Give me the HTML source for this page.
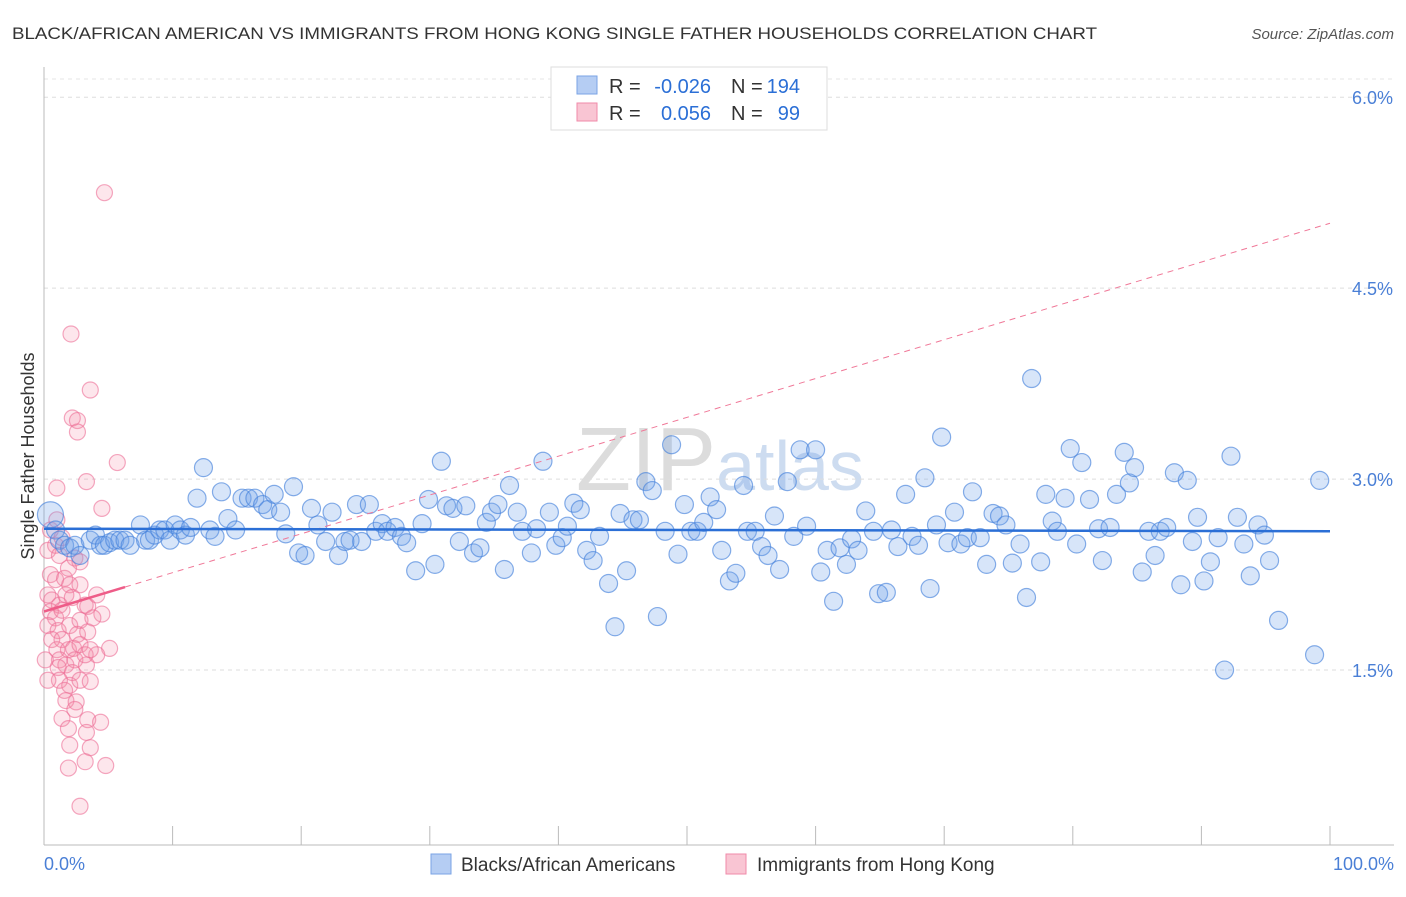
<!DOCTYPE html>
<html><head><meta charset="utf-8"><style>
body{margin:0;background:#fff;font-family:"Liberation Sans",sans-serif}
svg text{font-family:"Liberation Sans",sans-serif}
</style></head><body>
<svg id="chart" width="1406" height="892" viewBox="0 0 1406 892">
<text x="12" y="39" font-size="17" fill="#333" textLength="1085" lengthAdjust="spacingAndGlyphs">BLACK/AFRICAN AMERICAN VS IMMIGRANTS FROM HONG KONG SINGLE FATHER HOUSEHOLDS CORRELATION CHART</text>
<text x="1394" y="39" font-size="15" fill="#555" font-style="italic" text-anchor="end">Source: ZipAtlas.com</text>
<text x="720" y="490" font-size="90" fill="#ddd" text-anchor="middle" font-family="Liberation Serif"><tspan fill="#dcdcdc">ZIP</tspan><tspan fill="#cddcf0" font-family="Liberation Sans" font-size="70">atlas</tspan></text>
<g id="grid"></g>
<g id="axes"></g>
<g id="pink"></g>
<g id="blue"></g>
<g id="trends"></g>
<text x="34" y="456" font-size="18" fill="#333" text-anchor="middle" transform="rotate(-90 34 456)">Single Father Households</text>
<text x="44" y="870" font-size="18" fill="#4a7fd6">0.0%</text>
<text x="1394" y="870" font-size="18" fill="#4a7fd6" text-anchor="end">100.0%</text>
<g>
<rect x="551" y="67" width="276" height="63" fill="#fff" stroke="#ddd"/>
<rect x="577" y="76" width="20" height="18" fill="#b5cdf3" stroke="#7aa3e5"/>
<rect x="577" y="103" width="20" height="18" fill="#f9c5d3" stroke="#f08aaa"/>
<g font-size="20">
<text x="609" y="93" fill="#333">R =</text>
<text x="711" y="93" fill="#2b6fd6" text-anchor="end">-0.026</text>
<text x="731" y="93" fill="#333">N =</text>
<text x="800" y="93" fill="#2b6fd6" text-anchor="end">194</text>
<text x="609" y="120" fill="#333">R =</text>
<text x="711" y="120" fill="#2b6fd6" text-anchor="end">0.056</text>
<text x="731" y="120" fill="#333">N =</text>
<text x="800" y="120" fill="#2b6fd6" text-anchor="end">99</text>
</g>
</g>
<g>
<rect x="431" y="854" width="20" height="20" fill="#b5cdf3" stroke="#7aa3e5"/>
<text x="461" y="871" font-size="19" fill="#333">Blacks/African Americans</text>
<rect x="726" y="854" width="20" height="20" fill="#f9c5d3" stroke="#f08aaa"/>
<text x="757" y="871" font-size="19" fill="#333">Immigrants from Hong Kong</text>
</g>
</svg>
<script>
const yTicks=[1.5,3.0,4.5,6.0];
const yTickLabels=["1.5%","3.0%","4.5%","6.0%"];
const xTicks=[0,10,20,30,40,50,60,70,80,90,100];
const blueX=[0.5,0.9,1.2,1.6,2.0,2.4,2.8,3.6,4.0,4.4,4.7,5.1,5.5,5.9,6.3,6.7,7.5,7.9,8.2,8.6,9.0,9.4,9.8,10.2,10.6,11.0,11.4,11.9,12.4,12.9,13.3,13.8,14.3,14.9,15.4,15.9,16.4,17.0,17.4,17.9,18.4,18.8,19.4,19.8,20.3,20.8,21.3,21.9,22.4,22.9,23.4,23.8,24.3,24.7,25.3,25.8,26.3,26.7,27.3,27.8,28.2,28.9,29.4,29.9,30.4,30.9,31.3,31.8,32.3,32.8,33.4,33.9,34.4,34.8,35.3,35.8,36.2,36.8,37.2,37.9,38.3,38.8,39.3,39.8,40.3,40.7,41.2,41.7,42.2,42.7,43.2,43.9,44.4,44.8,45.3,45.8,46.3,46.8,47.3,47.7,48.3,48.8,49.3,49.8,50.3,50.8,51.3,51.8,52.3,52.7,53.3,53.8,54.4,54.7,55.3,55.8,56.3,56.8,57.2,57.8,58.3,58.8,59.3,60.0,60.4,60.9,61.4,61.9,62.4,62.8,63.3,63.9,64.5,64.9,65.5,65.9,66.4,67.0,67.5,68.0,68.5,68.9,69.4,69.8,70.3,70.8,71.3,71.8,72.2,72.8,73.3,73.8,74.3,74.8,75.3,75.9,76.4,76.8,77.5,77.9,78.4,78.8,79.4,79.8,80.3,80.7,81.3,82.0,82.3,82.9,83.4,84.0,84.4,84.8,85.4,85.9,86.4,86.8,87.3,87.9,88.4,88.9,89.3,89.7,90.2,90.7,91.3,91.8,92.3,92.8,93.3,93.8,94.4,94.9,95.3,96.0,98.8,99.2];
const blueY=[2.72,2.60,2.52,2.48,2.46,2.48,2.40,2.52,2.56,2.48,2.48,2.50,2.52,2.52,2.52,2.48,2.64,2.52,2.52,2.56,2.60,2.60,2.52,2.64,2.60,2.56,2.62,2.85,3.09,2.60,2.55,2.90,2.69,2.60,2.85,2.85,2.85,2.80,2.76,2.88,2.74,2.57,2.94,2.42,2.40,2.77,2.64,2.51,2.74,2.40,2.51,2.52,2.80,2.51,2.80,2.59,2.65,2.59,2.62,2.55,2.50,2.28,2.65,2.84,2.33,3.14,2.79,2.77,2.51,2.79,2.42,2.46,2.66,2.74,2.80,2.29,2.95,2.74,2.59,2.42,2.61,3.14,2.74,2.48,2.54,2.63,2.81,2.76,2.44,2.36,2.55,2.18,1.84,2.73,2.28,2.68,2.68,2.98,2.91,1.92,2.59,3.27,2.41,2.80,2.59,2.59,2.66,2.86,2.76,2.44,2.20,2.26,2.95,2.59,2.59,2.47,2.40,2.71,2.29,2.98,2.55,3.23,2.63,3.23,2.27,2.44,2.04,2.46,2.33,2.53,2.44,2.75,2.59,2.10,2.11,2.60,2.47,2.88,2.55,2.48,3.01,2.14,2.64,3.33,2.50,2.74,2.49,2.54,2.90,2.54,2.33,2.73,2.71,2.64,2.34,2.49,2.07,3.79,2.35,2.88,2.67,2.59,2.85,3.24,2.49,3.13,2.84,2.61,2.36,2.62,2.88,3.21,2.97,3.09,2.27,2.59,2.40,2.59,2.62,3.05,2.17,2.99,2.51,2.70,2.20,2.35,2.54,1.50,3.18,2.70,2.49,2.24,2.64,2.56,2.36,1.89,1.62,2.99];
const pinkX=[4.7,2.1,3.6,2.2,2.6,2.6,5.7,1.0,3.3,4.5,0.5,0.9,0.3,1.2,2.4,2.8,0.5,0.9,1.6,2.0,2.8,0.3,0.6,1.2,1.7,2.2,3.2,4.1,0.5,0.9,1.4,3.4,4.5,0.3,1.1,2.0,2.8,3.8,0.6,1.4,2.6,3.4,1.0,1.9,2.3,2.8,5.1,1.2,1.7,2.4,4.1,1.1,2.2,3.3,1.2,2.0,2.8,3.6,1.6,1.7,2.5,1.4,2.4,1.9,3.4,4.4,3.3,2.0,3.6,1.9,3.2,4.8,2.8,1.0,1.4,1.9,3.2,3.6,0.1,0.3];
const pinkY=[5.25,4.14,3.70,3.48,3.46,3.37,3.13,2.93,2.98,2.77,2.60,2.48,2.44,2.40,2.38,2.35,2.25,2.21,2.22,2.17,2.17,2.09,2.05,2.01,2.09,2.07,2.01,2.09,1.96,1.91,1.97,2.00,1.94,1.85,1.81,1.85,1.89,1.91,1.74,1.74,1.78,1.80,1.66,1.66,1.67,1.70,1.67,1.58,1.54,1.58,1.62,1.52,1.48,1.54,1.42,1.38,1.42,1.41,1.34,1.26,1.25,1.12,1.19,1.04,1.11,1.09,1.01,0.91,0.89,0.73,0.78,0.75,0.43,2.68,2.54,2.30,1.62,1.66,1.58,1.42];
const blueTrend=[2.61,2.59];
const pinkTrend=[1.96,5.01];
const pinkSolidEnd=6.3;

const NS="http://www.w3.org/2000/svg";
const sx=v=>44+v*12.86;
const sy=v=>861-v*127.3;
function mk(tag,attrs,parent){const e=document.createElementNS(NS,tag);for(const k in attrs)e.setAttribute(k,attrs[k]);parent.appendChild(e);return e;}
const gridG=document.getElementById('grid'),axesG=document.getElementById('axes');
yTicks.forEach((t,i)=>{
  const l=mk('line',{x1:44,x2:1394,y1:sy(t),y2:sy(t),stroke:'#ddd','stroke-dasharray':'4,4'},gridG);
  
  
  const tx=mk('text',{x:1393,y:sy(t)+7,'font-size':18,fill:'#4a7fd6','text-anchor':'end'},gridG);
  tx.textContent=yTickLabels[i];
  
  
});
const topLine=mk('line',{x1:44,x2:1394,y1:79,y2:79,stroke:'#e4e4e4','stroke-dasharray':'4,4'},gridG);


const ya=mk('line',{x1:44,x2:44,y1:67,y2:845,stroke:'#bbb'},axesG);


const xa=mk('line',{x1:44,x2:1394,y1:845,y2:845,stroke:'#bbb'},axesG);


xTicks.forEach(t=>{
  const l=mk('line',{x1:sx(t),x2:sx(t),y1:826,y2:845,stroke:'#bbb'},axesG);
  
  
});
const pg=document.getElementById('pink');
pinkX.forEach((x,i)=>{
  const c=mk('circle',{cx:sx(x),cy:sy(pinkY[i]),r:8,fill:'rgba(244,140,170,0.22)',stroke:'rgba(236,110,150,0.6)','stroke-width':1.2},pg);
  
  
});
const bg=document.getElementById('blue');
blueX.forEach((x,i)=>{
  const r=i===0?13:9;
  const c=mk('circle',{cx:sx(x),cy:sy(blueY[i]),r:r,fill:'rgba(110,160,235,0.28)',stroke:'rgba(70,130,220,0.65)','stroke-width':1.2},bg);
  
  
});
const tg=document.getElementById('trends');
const py=x=>pinkTrend[0]+(pinkTrend[1]-pinkTrend[0])*x/100;
const pd=mk('line',{x1:sx(pinkSolidEnd),y1:sy(py(pinkSolidEnd)),x2:sx(100),y2:sy(py(100)),stroke:'#f07898','stroke-width':1,'stroke-dasharray':'6,5'},tg);


const ps=mk('line',{x1:sx(0),y1:sy(py(0)),x2:sx(pinkSolidEnd),y2:sy(py(pinkSolidEnd)),stroke:'#ee5c88','stroke-width':2.5},tg);


const bt=mk('line',{x1:sx(0),y1:sy(blueTrend[0]),x2:sx(100),y2:sy(blueTrend[1]),stroke:'#2b6fd6','stroke-width':2.5},tg);


</script>
</body></html>
